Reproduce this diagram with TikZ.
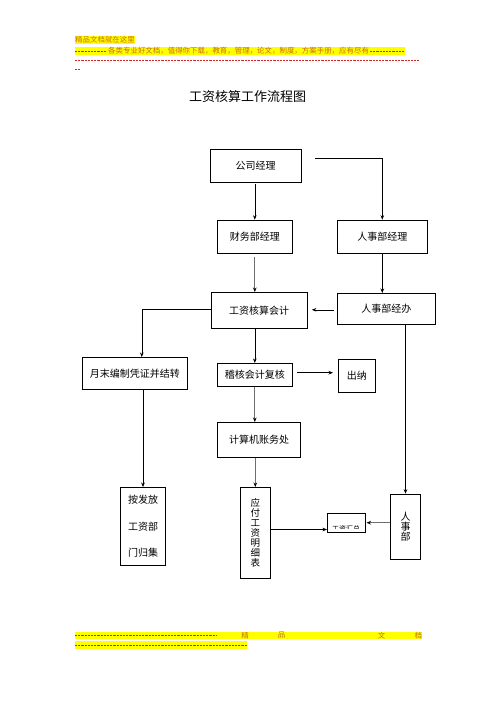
\documentclass[tikz,border=0pt]{standalone}
\usepackage{fontspec}
\setmainfont{Noto Sans CJK SC}
\usetikzlibrary{arrows.meta,calc}
\definecolor{hdtext}{RGB}{200,110,20}
\definecolor{hdyel}{RGB}{255,255,0}
\definecolor{hdred}{RGB}{210,40,40}
\definecolor{lngray}{RGB}{110,110,110}
\tikzset{
  box/.style={draw=black,line width=0.6pt,inner sep=0pt,font=\fontsize{10}{12}\selectfont,align=center},
  arr/.style={draw=black,line width=0.6pt,-{Stealth[length=4.5pt,width=3.6pt]}},
  garr/.style={draw=lngray,line width=1.1pt,-{Stealth[length=4.5pt,width=3.6pt,color=black]}},
  ln/.style={draw=black,line width=0.6pt},
  hdfont/.style={font=\fontsize{7.45}{8}\selectfont,text=hdtext,inner sep=0pt},
  hddash/.style={draw=hdred,line width=0.5pt,dash pattern=on 2.2pt off 1pt},
}
\begin{document}
\begin{tikzpicture}[x=1pt,y=-1pt]
\useasboundingbox (0,0) rectangle (496,702);
% header
\fill[hdyel] (75,36) rectangle (135,43.5);
\node[hdfont,anchor=west] (h1) at (75,39.8) {精品文档就在这里};
\fill[hdyel] (75,46.7) rectangle (405,55);
\draw[hddash] (75,51.5) -- (107,51.5);
\node[hdfont,anchor=west] (h2) at (108,50.8) {各类专业好文档，值得你下载，教育，管理，论文，制度，方案手册，应有尽有};
\draw[hddash] (370,51.5) -- (405,51.5);
\draw[hddash] (75,60.5) -- (419,60.5);
\draw[hddash] (75,69) -- (81,69);
% title
\node[font=\fontsize{13}{15}\selectfont,inner sep=0pt] (title) at (247.5,97) {工资核算工作流程图};
% boxes
\node[box,minimum width=91pt,minimum height=33pt] (boss) at (255.5,165.5) {公司经理};
\node[box,minimum width=75pt,minimum height=33pt] (fin) at (254.8,236.5) {财务部经理};
\node[box,minimum width=90pt,minimum height=33pt] (hr) at (382.3,236.5) {人事部经理};
\node[box,minimum width=96pt,minimum height=36pt] (acct) at (259,310.3) {工资核算会计};
\node[box,minimum width=98pt,minimum height=31pt] (hrop) at (386.3,308.8) {人事部经办};
\node[box,minimum width=105pt,minimum height=32pt] (month) at (134.8,373.3) {月末编制凭证并结转};
\node[box,minimum width=75pt,minimum height=23pt] (audit) at (254.8,374.7) {\raisebox{-3.5pt}{稽核会计复核}};
\node[box,minimum width=37pt,minimum height=33pt] (cashier) at (356.8,375.7) {出纳};
\node[box,minimum width=83.4pt,minimum height=35pt] (comp) at (259,439.8) {计算机账务处};
\node[box,minimum width=44.6pt,minimum height=78pt,font=\fontsize{10}{26.4}\selectfont] (issue) at (143,526.3) {按发放\\工资部\\门归集};
\node[box,minimum width=30.7pt,minimum height=91pt,font=\fontsize{9.5}{9.9}\selectfont] (payable) at (255.3,532.8) {应\\付\\工\\资\\明\\细\\表};
\node[box,minimum width=38.4pt,minimum height=18.7pt] (small) at (346.5,522.7) {};
\node[box,minimum width=30.4pt,minimum height=65pt,font=\fontsize{10}{10}\selectfont] (hrd) at (405.5,526.5) {人\\事\\部};
% clipped text in small box
\begin{scope}
\clip (328,524.8) rectangle (365,528.5);
\node[font=\fontsize{7}{8}\selectfont,inner sep=0pt,anchor=north] (smalltxt) at (346,525) {工资汇总};
\end{scope}
% connectors
\draw[arr] ([yshift=-2pt]boss.south -| fin.north) -- (fin.north);
\coordinate (bstart) at (315,158.3);
\draw[arr] (bstart) -| (hr.north);
\draw[garr] ([yshift=-3.5pt]fin.south) -- (fin.south |- acct.north);
\draw[arr] (hr.south) -- (hr.south |- hrop.north);
\draw[arr,shorten <=3pt,shorten >=4.5pt] ([yshift=-1pt]hrop.west) -- ([yshift=-1pt]hrop.west -| acct.east);
\coordinate (mtop) at ($(month.north)+(7,0)$);
\draw[arr] ([yshift=1.4pt]acct.west) -| (mtop);
\draw[arr] (issue.north |- month.south) -- (issue.north);
\draw[arr] (audit.north |- acct.south) -- (audit.north);
\draw[arr,shorten <=4.4pt,shorten >=5pt] ([yshift=2pt]audit.east) -- ([yshift=2pt]audit.east -| cashier.west);
\draw[garr] (audit.south) -- (audit.south |- comp.north);
\draw[garr] (comp.south -| payable.north) -- (payable.north);
\draw[arr] (hrd.north |- hrop.south) -- (hrd.north);
\draw[arr] ([yshift=3.3pt]payable.east) -- ([yshift=3.3pt]payable.east -| small.west);
\draw[garr,shorten >=0.5pt] (hrd.west |- small.east) -- (small.east);
% footer
\fill[hdyel] (75,631.7) rectangle (421.7,639);
\draw[hddash] (75,635.5) -- (216.7,635.5);
\node[hdfont] (f1) at (245,635.3) {精};
\node[hdfont] (f2) at (281.7,635.3) {品};
\node[hdfont] (f3) at (381.7,635.3) {文};
\node[hdfont] (f4) at (418.3,635.3) {档};
\fill[hdyel] (75,641) rectangle (246.7,648.5);
\draw[hddash] (75,645) -- (246.7,645);
\end{tikzpicture}
\end{document}
